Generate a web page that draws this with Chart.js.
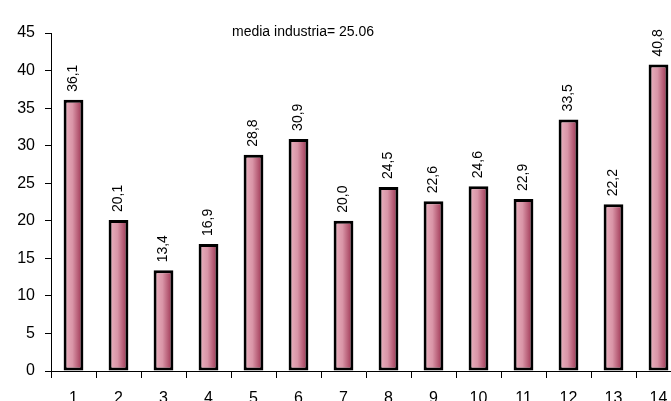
<!DOCTYPE html>
<html>
<head>
<meta charset="utf-8">
<script src="https://cdn.jsdelivr.net/npm/chart.js@4.4.1/dist/chart.umd.min.js"></script>
<style>
  html, body { margin: 0; padding: 0; background: #fff; overflow: hidden; }
  #wrap { position: absolute; left: 0; top: 0; width: 720px; height: 430px; }
</style>
</head>
<body>
<div id="wrap"><canvas id="chart" width="720" height="430"></canvas></div>
<script>
// chart data
const categories = ["1", "2", "3", "4", "5", "6", "7", "8", "9", "10", "11", "12", "13", "14"];
const values = [36.1, 20.1, 13.4, 16.9, 28.8, 30.9, 20.0, 24.5, 22.6, 24.6, 22.9, 33.5, 22.2, 40.8];
const yTicks = [0, 5, 10, 15, 20, 25, 30, 35, 40, 45];
const titleText = "media industria= 25.06";

const FONT = "'Liberation Sans', Arial, sans-serif";

// horizontal gradient across each bar, centred on its category
function barFill(context) {
  const chart = context.chart;
  const xScale = chart.scales.x;
  if (!chart.chartArea || !xScale || context.dataIndex === undefined) return "#c06078";
  const cx = xScale.getPixelForValue(context.dataIndex);
  const half = (xScale.width / categories.length) * 0.22;
  if (!Number.isFinite(cx) || !Number.isFinite(half)) return "#c06078";
  const g = chart.ctx.createLinearGradient(cx - half, 0, cx + half, 0);
  g.addColorStop(0, "#ecb4c2");
  g.addColorStop(0.45, "#d995a7");
  g.addColorStop(1, "#962848");
  return g;
}

// rotated value labels above each bar + the "media" note
const labelsPlugin = {
  id: "valueLabels",
  afterDatasetsDraw(chart) {
    const ctx = chart.ctx;
    const meta = chart.getDatasetMeta(0);
    ctx.save();
    ctx.fillStyle = "#000";
    ctx.font = "14px " + FONT;
    ctx.textAlign = "left";
    ctx.textBaseline = "middle";
    meta.data.forEach((bar, i) => {
      ctx.save();
      ctx.translate(bar.x, bar.y - 8);
      ctx.rotate(-Math.PI / 2);
      ctx.fillText(values[i].toFixed(1).replace(".", ","), 0, 0);
      ctx.restore();
    });
    ctx.textAlign = "left";
    ctx.fillText(titleText, chart.chartArea.left + 181, chart.chartArea.top - 1);
    ctx.restore();
  },
};

new Chart(document.getElementById("chart"), {
  type: "bar",
  data: {
    labels: categories,
    datasets: [
      {
        data: values,
        backgroundColor: barFill,
        borderColor: "#000",
        borderWidth: 3,
        borderSkipped: false,
        barPercentage: 0.44,
        categoryPercentage: 1.0,
      },
    ],
  },
  options: {
    responsive: false,
    animation: false,
    layout: { padding: { top: 33, right: 39, left: 0, bottom: 0 } },
    plugins: {
      legend: { display: false },
      tooltip: { enabled: false },
    },
    scales: {
      x: {
        offset: true,
        grid: {
          offset: true,
          drawOnChartArea: false,
          drawTicks: true,
          tickLength: 7,
          color: "#000",
        },
        border: { color: "#000", width: 1 },
        ticks: {
          color: "#000",
          padding: 11,
          maxRotation: 0,
          font: { size: 16, family: FONT },
        },
        afterFit(scale) {
          scale.height = 59;
        },
      },
      y: {
        min: 0,
        max: 45,
        afterBuildTicks(scale) {
          scale.ticks = yTicks.map((v) => ({ value: v }));
        },
        grid: {
          drawOnChartArea: false,
          drawTicks: true,
          tickLength: 6,
          color: "#000",
        },
        border: { color: "#000", width: 1 },
        ticks: {
          color: "#000",
          padding: 10,
          font: { size: 16, family: FONT },
        },
        afterFit(scale) {
          scale.width = 51;
        },
      },
    },
  },
  plugins: [labelsPlugin],
});
</script>
</body>
</html>
